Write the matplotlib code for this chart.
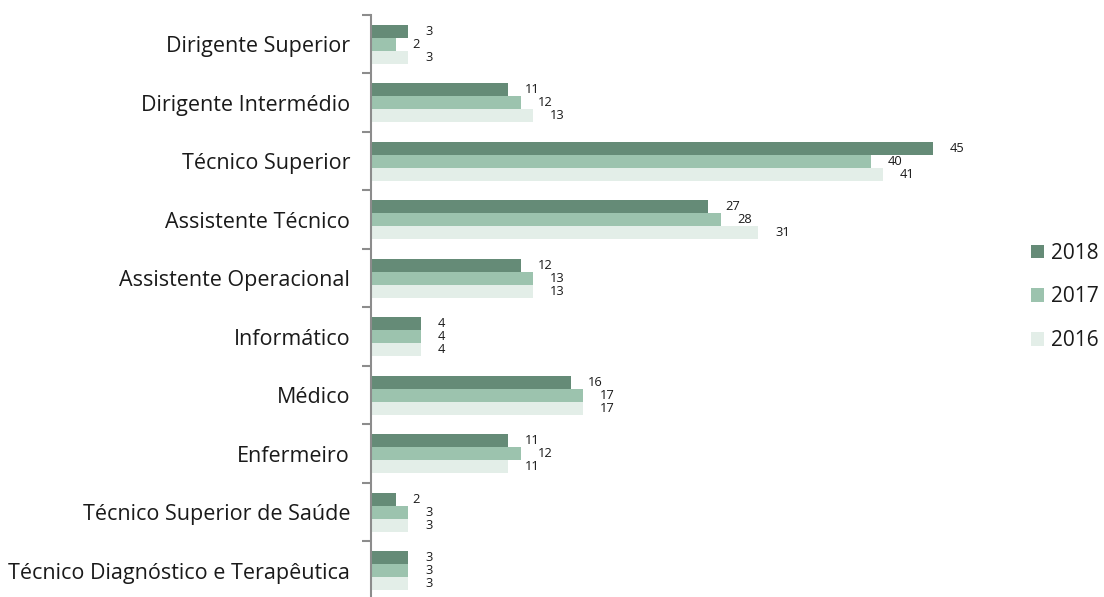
import matplotlib
matplotlib.use("Agg")
import matplotlib.pyplot as plt
import numpy as np

plt.rcParams["font.family"] = ["Open Sans", "DejaVu Sans"]

categorias = ["Dirigente Superior", "Dirigente Intermédio", "Técnico Superior",
              "Assistente Técnico", "Assistente Operacional", "Informático",
              "Médico", "Enfermeiro", "Técnico Superior de Saúde",
              "Técnico Diagnóstico e Terapêutica"]
v2018 = [3, 11, 45, 27, 12, 4, 16, 11, 2, 3]
v2017 = [2, 12, 40, 28, 13, 4, 17, 12, 3, 3]
v2016 = [3, 13, 41, 31, 13, 4, 17, 11, 3, 3]

anos = ["2018", "2017", "2016"]
series = [v2018, v2017, v2016]
cores = ["#658B77", "#9CC3AE", "#E3EEE8"]

fig = plt.figure(figsize=(11.04, 5.97), dpi=100)
ax = fig.add_axes([0.336, -0.005, 0.566, 0.98])

n = len(categorias)
y = np.arange(n)
h = 0.222
for i, (vals, cor, ano) in enumerate(zip(series, cores, anos)):
    pos = y + (i - 1) * h
    bars = ax.barh(pos, vals, height=h, color=cor, label=ano)
    for b, v in zip(bars, vals):
        ax.annotate(str(v), (b.get_width(), b.get_y() + b.get_height() / 2),
                    xytext=(12, 0), textcoords="offset points",
                    ha="left", va="center", fontsize=9.3, color="#1a1a1a")

ax.set_xlim(0, 50)
ax.set_ylim(n - 0.5, -0.5)
ax.set_yticks(y)
ax.set_yticklabels(categorias, fontsize=15.45, color="#1a1a1a")
ax.set_yticks(np.arange(n + 1) - 0.5, minor=True)
ax.tick_params(axis="y", which="major", length=0, pad=15)
ax.tick_params(axis="y", which="minor", length=6.5, width=1.5, color="#8c8c8c")
ax.xaxis.set_visible(False)
for s in ["top", "right", "bottom"]:
    ax.spines[s].set_visible(False)
ax.spines["left"].set_color("#8c8c8c")
ax.spines["left"].set_linewidth(1.5)

leg = ax.legend(loc="center left", bbox_to_anchor=(1.027, 0.518), frameon=False,
                fontsize=15, handlelength=0.6, handleheight=0.6,
                handletextpad=0.35, labelspacing=1.1)
for t in leg.get_texts():
    t.set_color("#1a1a1a")

fig.savefig("out.png", dpi=100)
